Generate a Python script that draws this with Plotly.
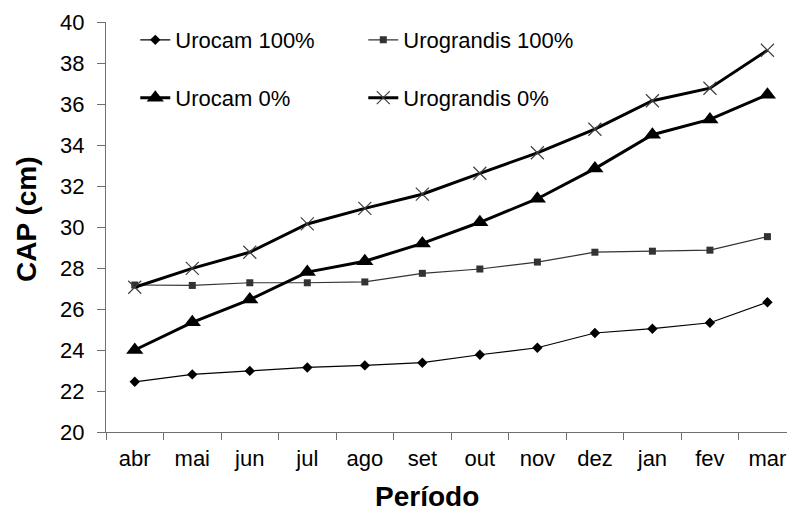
import plotly.graph_objects as go

meses = ["abr", "mai", "jun", "jul", "ago", "set", "out", "nov", "dez", "jan", "fev", "mar"]
urocam_100 = [22.45, 22.81, 22.98, 23.15, 23.25, 23.38, 23.77, 24.11, 24.83, 25.04, 25.33, 26.33]
urograndis_100 = [27.17, 27.15, 27.28, 27.28, 27.32, 27.74, 27.95, 28.29, 28.77, 28.82, 28.87, 29.53]
urocam_0 = [24.0, 25.35, 26.46, 27.8, 28.33, 29.2, 30.23, 31.38, 32.85, 34.5, 35.25, 36.45]
urograndis_0 = [27.06, 27.98, 28.77, 30.15, 30.91, 31.6, 32.62, 33.62, 34.77, 36.16, 36.77, 38.62]

FONT = "Arial, Liberation Sans, sans-serif"

fig = go.Figure()
fig.add_trace(go.Scatter(x=meses, y=urocam_100, name="Urocam 100%", mode="lines+markers",
                         line=dict(color="black", width=1.2),
                         marker=dict(symbol="diamond", size=8, color="black"),
                         legend="legend"))
fig.add_trace(go.Scatter(x=meses, y=urograndis_100, name="Urograndis 100%", mode="lines+markers",
                         line=dict(color="#333333", width=1.2),
                         marker=dict(symbol="square", size=7, color="#333333"),
                         legend="legend"))
fig.add_trace(go.Scatter(x=meses, y=urocam_0, name="Urocam 0%", mode="lines+markers",
                         line=dict(color="black", width=3),
                         marker=dict(symbol="triangle-up", size=15, color="black"),
                         legend="legend2"))
fig.add_trace(go.Scatter(x=meses, y=urograndis_0, name="Urograndis 0%", mode="lines+markers",
                         line=dict(color="black", width=3),
                         marker=dict(symbol="x-thin", size=13, color="#404040",
                                     line=dict(color="#404040", width=1.2)),
                         legend="legend2"))

legend_common = dict(orientation="h", xref="paper", yref="paper", xanchor="left", yanchor="middle",
                     entrywidth=183, entrywidthmode="pixels", bgcolor="rgba(0,0,0,0)",
                     font=dict(family=FONT, size=22, color="black"))

fig.update_layout(
    width=787, height=515,
    margin=dict(l=106, r=0, t=22, b=83),
    paper_bgcolor="white", plot_bgcolor="white",
    font=dict(family=FONT, size=22, color="black"),
    showlegend=True,
    legend=dict(x=0.043, y=0.956, **legend_common),
    legend2=dict(x=0.043, y=0.815, **legend_common),
    xaxis=dict(type="category", range=[-0.5, 11.34], showline=True, linecolor="#707070", linewidth=1,
               ticks="outside", tickson="boundaries", ticklen=7, tickcolor="#707070",
               showgrid=False, zeroline=False, ticklabelstandoff=7,
               tickfont=dict(family=FONT, size=22, color="black")),
    yaxis=dict(range=[20, 40], dtick=2, tick0=20, showline=True, linecolor="#707070", linewidth=1,
               ticks="outside", ticklen=8, tickcolor="#707070", showgrid=False, zeroline=False,
               ticklabelstandoff=8, tickfont=dict(family=FONT, size=22, color="black")),
    annotations=[
        dict(text="<b>CAP (cm)</b>", xref="paper", yref="paper", x=0, xshift=-80, y=0.5195,
             xanchor="center", yanchor="middle", textangle=-90, showarrow=False,
             font=dict(family=FONT, size=28, color="black")),
        dict(text="<b>Período</b>", xref="paper", yref="paper", x=(426.5 - 106) / 681, y=0,
             yshift=-(496 - 432), xanchor="center", yanchor="middle", showarrow=False,
             font=dict(family=FONT, size=28, color="black")),
    ],
)

fig.write_html("out.html", config={"displayModeBar": False},
               post_script="document.body.style.margin='0';document.body.style.overflow='hidden';")
